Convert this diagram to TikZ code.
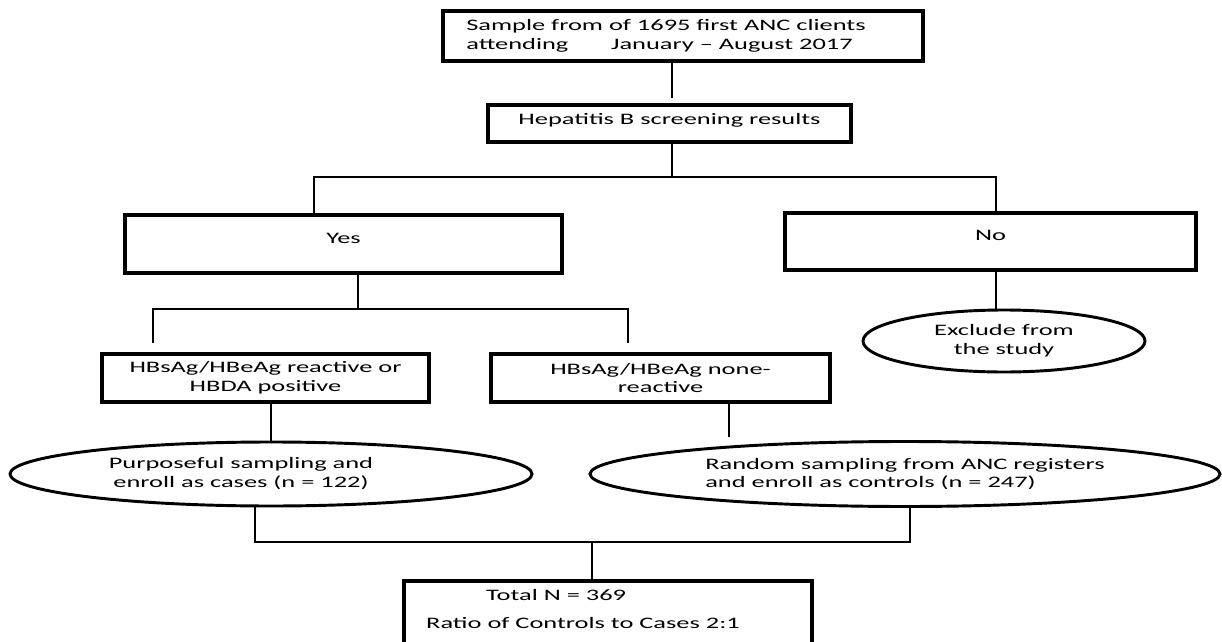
\documentclass[tikz,border=0pt]{standalone}
\usepackage{fontspec}
\setmainfont{Carlito}[FakeStretch=1.65]
\usetikzlibrary{shapes.geometric}
\begin{document}
\begin{tikzpicture}[x=0.75pt,y=-0.75pt,
  every node/.style={font=\fontsize{12pt}{14pt}\selectfont, inner sep=0pt},
  box/.style={draw, line width=2.3pt, rectangle},
  oval/.style={draw, line width=2.2pt, ellipse},
  conn/.style={line width=0.85pt}]
\clip (0,0) rectangle (1222,642);
\fill[white] (0,0) rectangle (1222,642);

% boxes
\node[box, minimum width=360pt, minimum height=37.5pt, align=left] (b1) at (683,36)
  {Sample from of 1695 first ANC clients\hspace*{25.5pt}\\attending\hspace*{32pt}January – August 2017};
\node[box, minimum width=272.25pt, minimum height=27.75pt, text height=14.25pt, text depth=13.5pt] (b2) at (669.5,123.5)
  {Hepatitis B screening results};
\node[box, minimum width=327.75pt, minimum height=43.5pt, text height=21.4pt, text depth=22.1pt] (yes) at (343.5,244) {Yes};
\node[box, minimum width=308.25pt, minimum height=42.75pt, text height=20.6pt, text depth=22.1pt] (no) at (990.5,241.5) {No};
\node[box, minimum width=245.25pt, minimum height=36pt, align=center] (pos) at (265.5,378)
  {HBsAg/HBeAg reactive or\\HBDA positive};
\node[box, minimum width=254.25pt, minimum height=36pt, align=center] (neg) at (660.5,378)
  {HBsAg/HBeAg none-\\reactive};
\node[oval, minimum width=211.5pt, minimum height=46.5pt, align=center] (excl) at (1004,341)
  {Exclude from\\the study};
\node[oval, minimum width=391.5pt, minimum height=48pt] (cases) at (271,474)
  {\begin{tabular}{@{}c@{}}Purposeful sampling and\\enroll as cases (n = 122)\end{tabular}\hspace*{45pt}};
\node[oval, minimum width=472.5pt, minimum height=48.75pt, align=left] (ctrl) at (905,474)
  {Random sampling from ANC registers\\and enroll as controls (n = 247)};
\node[box, minimum width=306pt, minimum height=66pt] (total) at (608,625)
  {\begin{tabular}{@{}l@{}}\hspace*{45pt}Total N = 369\\[7pt]Ratio of Controls to Cases 2:1\\[7pt]\strut\end{tabular}\hspace*{37.5pt}};

% junctions
\coordinate (j1) at (672,177);
\coordinate (j1l) at (314,177);
\coordinate (j1r) at (996,177);
\coordinate (j2) at (358,309);
\coordinate (j2l) at (153,309);
\coordinate (j2r) at (628,309);
\coordinate (j3) at (729,437);
\coordinate (j4) at (592,542);
\coordinate (j4l) at (255,542);
\coordinate (j4r) at (910,542);

% connectors
\draw[conn, shorten >=3.75pt] (b1.south -| j1) -- (b2.north -| j1);
\draw[conn] (b2.south -| j1) -- (j1);
\draw[conn] (yes.north -| j1l) -- (j1l) -- (j1r) -- (no.north -| j1r);
\draw[conn] (yes.south -| j2) -- (j2);
\draw[conn, shorten <=6.75pt, shorten >=6.75pt] (pos.north -| j2l) -- (j2l) -- (j2r) -- (neg.north -| j2r);
\draw[conn] (no.south -| j1r) -- (excl.north -| j1r);
\draw[conn] (pos.south -| cases.north) -- (cases.north);
\draw[conn] (neg.south -| j3) -- (j3);
\draw[conn] (cases.south -| j4l) -- (j4l) -- (j4r) -- (ctrl.south -| j4r);
\draw[conn] (j4) -- (total.north -| j4);
\end{tikzpicture}
\end{document}
